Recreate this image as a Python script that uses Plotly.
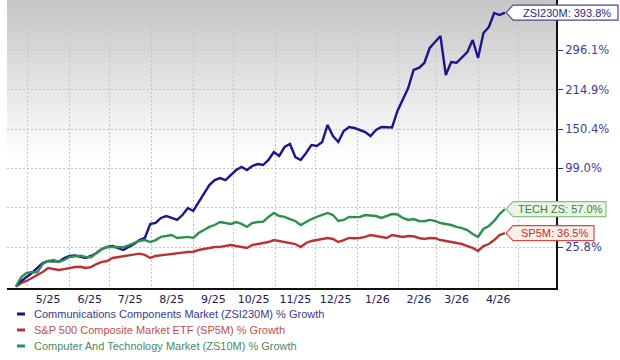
import numpy as np
import pandas as pd
import plotly.graph_objects as go

# ---------------- data (cumulative % growth) ----------------
dates = pd.date_range("2025-04-22", periods=92, freq="4D")

zsi230m = [0.0, 3.3, 5.7, 8.2, 11.4, 14.7, 16.0, 16.0, 15.6, 18.1,
           19.5, 19.8, 18.8, 18.1, 19.5, 21.6, 24.4, 25.9, 26.6, 25.2,
           23.7, 25.9, 28.1, 31.1, 32.7, 44.0, 44.8, 49.1, 50.8, 49.1,
           47.4, 51.7, 58.0, 55.3, 63.7, 72.5, 80.7, 86.0, 88.2, 86.0,
           91.5, 97.2, 100.7, 97.2, 101.9, 104.2, 103.0, 109.1, 119.0, 114.0,
           125.5, 129.5, 112.7, 109.1, 117.8, 128.2, 126.8, 132.2, 156.4, 140.4,
           132.2, 147.6, 153.4, 151.9, 149.0, 146.1, 140.4, 149.0, 153.4, 153.4,
           152.8, 178.2, 196.6, 218.1, 253.3, 257.4, 268.0, 301.6, 315.9, 330.7,
           243.1, 270.1, 268.5, 281.1, 292.4, 320.8, 278.9, 338.3, 353.9, 392.5,
           386.8, 393.8]

sp5m = [0.0, 2.1, 3.3, 5.1, 6.9, 8.8, 11.4, 10.7, 10.1, 10.7,
        11.4, 12.0, 12.2, 11.4, 12.0, 14.0, 15.4, 16.0, 18.1, 18.8,
        19.5, 20.2, 20.9, 21.1, 20.2, 18.1, 19.5, 20.2, 20.4, 20.9,
        21.6, 21.8, 22.3, 22.5, 23.7, 24.4, 25.2, 25.9, 26.0, 26.6,
        27.4, 26.6, 25.9, 25.2, 27.4, 28.1, 28.9, 29.6, 31.1, 30.4,
        29.6, 28.9, 28.1, 25.9, 28.9, 30.4, 31.1, 31.9, 32.7, 31.9,
        29.6, 31.1, 32.7, 32.5, 32.7, 33.5, 35.0, 34.2, 33.5, 32.7,
        35.0, 34.2, 33.5, 34.2, 34.0, 32.7, 31.9, 32.7, 32.5, 31.1,
        30.4, 29.6, 28.9, 28.1, 26.6, 25.2, 23.0, 26.6, 28.1, 31.1,
        35.0, 36.5]

zs10m = [0.0, 5.7, 8.2, 8.8, 8.6, 14.0, 16.0, 16.7, 15.4, 16.7,
         18.8, 19.5, 19.7, 18.8, 18.6, 21.6, 24.4, 25.9, 26.1, 25.9,
         25.7, 27.4, 28.9, 30.4, 31.1, 29.6, 31.1, 33.5, 34.2, 35.0,
         32.7, 32.9, 33.5, 32.7, 36.6, 39.0, 41.5, 43.1, 45.6, 44.8,
         44.0, 45.6, 44.0, 41.5, 44.8, 45.6, 45.8, 50.0, 53.5, 50.8,
         50.0, 48.2, 46.5, 43.1, 45.6, 48.2, 50.0, 51.7, 53.5, 51.7,
         46.5, 47.4, 50.0, 49.8, 50.0, 51.7, 51.5, 50.8, 49.1, 50.8,
         52.6, 52.2, 49.1, 47.4, 48.2, 46.5, 46.3, 47.4, 46.5, 44.8,
         44.0, 43.1, 41.5, 40.6, 39.0, 35.8, 33.5, 39.8, 42.3, 46.5,
         52.6, 57.0]

ytick_values = [25.8, 58.2, 99.0, 150.4, 214.9, 296.1]
ytick_labels = ["25.8%", "", "99.0%", "150.4%", "214.9%", "296.1%"]

month_starts = pd.date_range("2025-05-01", "2026-05-01", freq="MS")
label_months = pd.date_range("2025-05-01", "2026-04-01", freq="MS")
label_mid = [d + pd.Timedelta(days=15) for d in label_months]
xtick_labels = [f"{d.month}/{d.strftime('%y')}" for d in label_months]

legend_names = ["Communications Components Market (ZSI230M) % Growth",
                "S&P 500 Composite Market ETF (SP5M) % Growth",
                "Computer And Technology Market (ZS10M) % Growth"]
end_tags = ["ZSI230M", "TECH ZS", "SP5M"]

# ---------------- styling ----------------
C_BLUE, C_RED, C_GREEN = "#18188a", "#b83434", "#2f8e50"
W, H = 620, 360
ML, MR, MT, MB = 7, 64, 0, 72
PW, PH = W - ML - MR, H - MT - MB


def lg(v):
    return np.log10(1 + np.asarray(v, dtype=float) / 100.0)


def px_x(p):
    return (p - ML) / PW


def px_y(p):
    return (H - MB - p) / PH


fig = go.Figure()
for vals, col, nm in [(sp5m, C_RED, legend_names[1]),
                      (zsi230m, C_BLUE, legend_names[0]),
                      (zs10m, C_GREEN, legend_names[2])]:
    fig.add_trace(go.Scatter(x=dates, y=lg(vals), mode="lines", name=nm,
                             line=dict(color=col, width=2.4), hoverinfo="skip"))

shapes = []
# gradient background in the upper part of the plot area
nb = 36
band = 4.5
for i in range(nb):
    c = int(round(198 + (255 - 198) * (i / (nb - 1))))
    shapes.append(dict(type="rect", xref="x domain", yref="y domain",
                       x0=0, x1=1, y0=px_y((i + 1) * band + 0.6), y1=px_y(i * band),
                       fillcolor=f"rgb({c},{c},{c})", line=dict(width=0), layer="below"))

# end-of-line tags
annotations = []
tags = [(zsi230m[-1], end_tags[0], "#2a2a7a", "#ffffff", "#4a4a8a", 618),
        (zs10m[-1], end_tags[1], "#3b7d45", "#eaf5e3", "#8ac08a", 606),
        (sp5m[-1], end_tags[2], "#b53030", "#fcefe6", "#c85050", 594)]
hh = 7.5 / 395
for v, tag, tcol, fill, bcol, right in tags:
    yv = float(lg(v))
    tip, left = 506, 513
    path = (f"M {px_x(tip)},{yv} L {px_x(left)},{yv + hh} L {px_x(right)},{yv + hh} "
            f"L {px_x(right)},{yv - hh} L {px_x(left)},{yv - hh} Z")
    shapes.append(dict(type="path", xref="paper", yref="y", path=path,
                       fillcolor=fill, line=dict(color=bcol, width=1.2), layer="above"))
    annotations.append(dict(xref="paper", yref="y", x=px_x((left + right) / 2 + 1), y=yv,
                            text=f"{tag}: {v:.1f}%", showarrow=False,
                            xanchor="center", yanchor="middle",
                            font=dict(family="Liberation Sans, Arial", size=11, color=tcol)))

# custom legend
for k, (nm, col, tcol) in enumerate([(legend_names[0], C_BLUE, "#3a3a8c"),
                                     (legend_names[1], C_RED, "#c0504d"),
                                     (legend_names[2], C_GREEN, "#4a8c5c")]):
    yc = 314 + k * 16
    shapes.append(dict(type="rect", xref="paper", yref="paper",
                       x0=px_x(17), x1=px_x(25), y0=px_y(yc + 1.5), y1=px_y(yc - 1.5),
                       fillcolor=col, line=dict(width=0)))
    annotations.append(dict(xref="paper", yref="paper", x=px_x(32), y=px_y(yc),
                            text=nm, showarrow=False, xanchor="left", yanchor="middle",
                            font=dict(family="Liberation Sans, Arial", size=11, color=tcol)))

y_lo = -1.5 / 395
y_hi = 286.5 / 395

fig.update_layout(
    template="none",
    width=W, height=H,
    margin=dict(l=ML, r=MR, t=MT, b=MB, pad=0, autoexpand=False),
    paper_bgcolor="white", plot_bgcolor="white",
    showlegend=False, hovermode=False,
    shapes=shapes, annotations=annotations,
    xaxis=dict(type="date", automargin=False,
               range=["2025-04-15 10:00", "2026-05-29"],
               tickvals=label_mid, ticktext=xtick_labels,
               ticks="", showgrid=False, zeroline=False,
               minor=dict(tickvals=list(month_starts), showgrid=True,
                          gridcolor="#c4c4c4", griddash="2px,2px", gridwidth=1, ticks=""),
               showline=True, linecolor="#111111", linewidth=2,
               tickfont=dict(family="DejaVu Sans", size=11, color="#20204f")),
    yaxis=dict(side="right", automargin=False, range=[y_lo, y_hi],
               tickvals=list(lg(ytick_values)), ticktext=ytick_labels,
               showgrid=True, gridcolor="#c4c4c4", griddash="2px,2px", gridwidth=1,
               zeroline=False, showline=True, linecolor="#111111", linewidth=2,
               ticks="outside", ticklen=5, tickcolor="#333366", tickwidth=1,
               tickfont=dict(family="DejaVu Sans", size=11.5, color="#3d3d99")),
)

fig.write_html("out.html",
               config={"displayModeBar": False, "staticPlot": True},
               post_script="document.body.style.margin='0';document.body.style.padding='0';")
